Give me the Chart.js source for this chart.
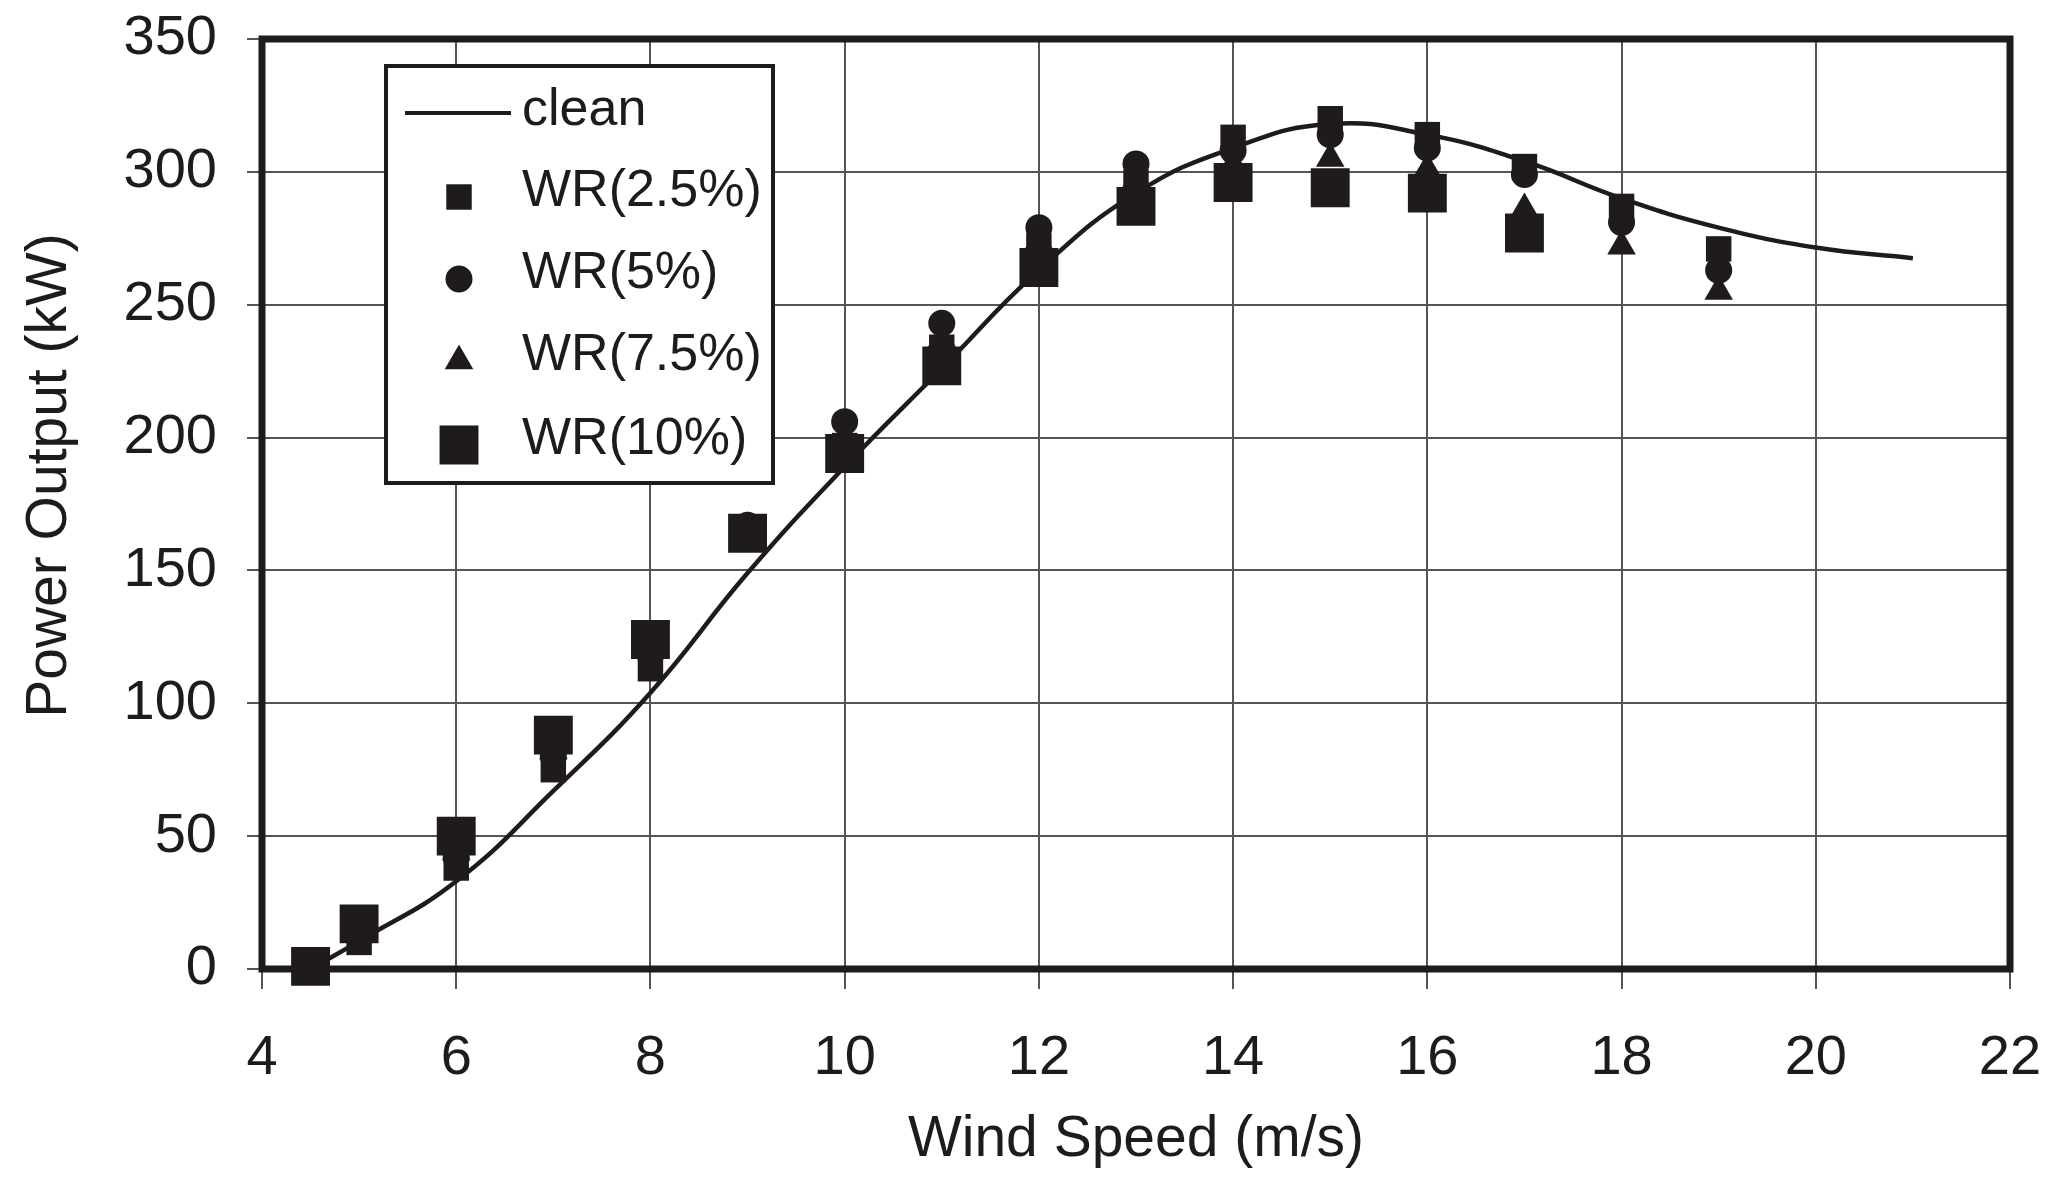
<!DOCTYPE html>
<html>
<head>
<meta charset="utf-8">
<script src="https://cdn.jsdelivr.net/npm/chart.js@4.4.1/dist/chart.umd.min.js"></script>
<style>
  html, body { margin: 0; padding: 0; background: #ffffff; }
  #wrap { width: 2053px; height: 1186px; }
</style>
</head>
<body>
<div id="wrap"><canvas id="powerChart" width="2053" height="1186"></canvas></div>
<script>
// clean blade power curve
const cleanSpeeds = [4.5, 5, 6, 7, 8, 9, 10, 11, 12, 13, 14, 15, 16, 17, 18, 19, 20, 21];
const cleanPower  = [0, 10.5, 33, 67, 104, 149, 189, 226, 263, 292, 309, 318, 314, 304, 290, 279, 271.5, 267.5];

// wing roughness measurements
const wrSpeeds = [4.5, 5, 6, 7, 8, 9, 10, 11, 12, 13, 14, 15, 16, 17, 18, 19];
const wr25  = [0, 10, 38, 75, 113, 163, 197, 234, 272, 296, 313, 320, 314, 302, 287, 271];
const wr5   = [0, 13, 42, 80, 118, 167, 206, 243, 279, 303, 308, 314, 309, 299, 281, 263];
const wr75  = [0, 14, 44, 82, 120, 166, 200, 237, 274, 297, 303, 305, 301, 286, 272, 255];
const wr10  = [1, 17, 50, 88, 124, 164, 194, 227, 264, 287, 296, 294, 292, 277];

const xTicks = [4, 6, 8, 10, 12, 14, 16, 18, 20, 22];
const yTicks = [0, 50, 100, 150, 200, 250, 300, 350];

const ink = '#1f1b1c';
const fontFamily = '"Liberation Sans", Arial, sans-serif';

function toPoints(xs, ys) {
    return ys.map((y, i) => ({ x: xs[i], y: y }));
}

// marker glyphs for the legend box (same sizes as the chart points)
function drawGlyph(ctx, style, r, x, y) {
    ctx.beginPath();
    if (style === 'rect') {
        const s = Math.SQRT1_2 * r;
        ctx.rect(x - s, y - s, 2 * s, 2 * s);
    } else if (style === 'circle') {
        ctx.arc(x, y, r, 0, Math.PI * 2);
    } else if (style === 'triangle') {
        ctx.moveTo(x, y - r);
        ctx.lineTo(x + r * Math.sqrt(3) / 2, y + r / 2);
        ctx.lineTo(x - r * Math.sqrt(3) / 2, y + r / 2);
        ctx.closePath();
    }
    ctx.fill();
}

// axes keep a fixed size, no extra room for overhanging labels
function fixAxis(size) {
    return (scale) => {
        if (scale.isHorizontal()) scale.height = size;
        else scale.width = size;
        scale.paddingTop = 0;
        scale.paddingBottom = 0;
        scale.paddingLeft = 0;
        scale.paddingRight = 0;
    };
}

const frameBox = {
    id: 'frameBox',
    afterDatasetsDraw(chart) {
        const { ctx, chartArea } = chart;
        ctx.save();
        ctx.strokeStyle = ink;
        ctx.lineWidth = 7;
        ctx.strokeRect(chartArea.left, chartArea.top,
                       chartArea.right - chartArea.left, chartArea.bottom - chartArea.top);
        ctx.restore();
    }
};

const legendBox = {
    id: 'legendBox',
    afterDraw(chart) {
        const ctx = chart.ctx;
        const bx = 386, by = 66, bw = 387, bh = 417;
        ctx.save();
        ctx.fillStyle = '#ffffff';
        ctx.fillRect(bx, by, bw, bh);
        ctx.strokeStyle = ink;
        ctx.lineWidth = 4;
        ctx.strokeRect(bx, by, bw, bh);

        ctx.font = '52px ' + fontFamily;
        ctx.fillStyle = ink;
        ctx.textBaseline = 'middle';
        ctx.textAlign = 'left';

        const rows = [111, 192, 274, 356, 440];
        chart.data.datasets.forEach((ds, i) => {
            const yy = rows[i];
            if (ds.showLine) {
                ctx.strokeStyle = ink;
                ctx.lineWidth = 4;
                ctx.beginPath();
                ctx.moveTo(405, yy + 2);
                ctx.lineTo(511, yy + 2);
                ctx.stroke();
            } else {
                drawGlyph(ctx, ds.pointStyle, ds.pointRadius, 459, yy + 5);
            }
            ctx.fillText(ds.label, 522, yy);
        });
        ctx.restore();
    }
};

const chartCtx = document.getElementById('powerChart').getContext('2d');
const powerChart = new Chart(chartCtx, {
    type: 'scatter',
    data: {
        datasets: [
            {
                label: 'clean',
                data: toPoints(cleanSpeeds, cleanPower),
                showLine: true,
                borderColor: ink,
                borderWidth: 4.5,
                pointRadius: 0,
                tension: 0.45,
                clip: false
            },
            {
                label: 'WR(2.5%)',
                data: toPoints(wrSpeeds, wr25),
                pointStyle: 'rect',
                pointRadius: 18,
                backgroundColor: ink,
                borderWidth: 0,
                clip: false
            },
            {
                label: 'WR(5%)',
                data: toPoints(wrSpeeds, wr5),
                pointStyle: 'circle',
                pointRadius: 13.5,
                backgroundColor: ink,
                borderWidth: 0,
                clip: false
            },
            {
                label: 'WR(7.5%)',
                data: toPoints(wrSpeeds, wr75),
                pointStyle: 'triangle',
                pointRadius: 16.5,
                backgroundColor: ink,
                borderWidth: 0,
                clip: false
            },
            {
                label: 'WR(10%)',
                data: toPoints(wrSpeeds, wr10),
                pointStyle: 'rect',
                pointRadius: 27.5,
                backgroundColor: ink,
                borderWidth: 0,
                clip: false
            }
        ]
    },
    options: {
        responsive: false,
        animation: false,
        devicePixelRatio: 1,
        layout: { padding: { top: 39, right: 43, left: 0, bottom: 0 } },
        plugins: {
            legend: { display: false },
            tooltip: { enabled: false }
        },
        scales: {
            x: {
                type: 'linear',
                min: 4,
                max: 22,
                afterBuildTicks: (scale) => { scale.ticks = xTicks.map(v => ({ value: v })); },
                afterFit: fixAxis(217),
                grid: { color: '#555555', lineWidth: 2, tickLength: 20 },
                border: { display: false },
                ticks: {
                    color: ink,
                    padding: 36,
                    font: { family: fontFamily, size: 56 }
                },
                title: {
                    display: true,
                    text: 'Wind Speed (m/s)',
                    color: ink,
                    font: { family: fontFamily, size: 57 },
                    padding: { top: 0, bottom: 12 }
                }
            },
            y: {
                type: 'linear',
                min: 0,
                max: 350,
                afterBuildTicks: (scale) => { scale.ticks = yTicks.map(v => ({ value: v })); },
                afterFit: fixAxis(262),
                grid: { color: '#555555', lineWidth: 2, tickLength: 15 },
                border: { display: false },
                ticks: {
                    color: ink,
                    padding: 30,
                    font: { family: fontFamily, size: 56 }
                },
                title: {
                    display: true,
                    text: '\u2002\u2002Power Output (kW)',
                    color: ink,
                    font: { family: fontFamily, size: 57 },
                    padding: { top: 16, bottom: 0 }
                }
            }
        }
    },
    plugins: [frameBox, legendBox]
});
</script>
</body>
</html>
